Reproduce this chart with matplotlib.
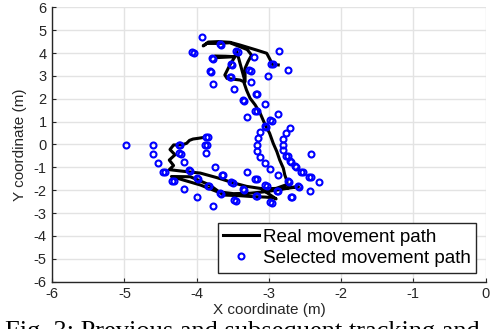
import matplotlib.pyplot as plt

# Real movement path
path_x = [-3.92, -3.98, -4.05, -4.10, -4.14, -4.21, -4.32, -4.37, -4.30, -4.38, -4.32, -4.38,
          -4.19, -3.95, -3.72, -3.49, -3.31, -3.12, -2.89, -2.71, -2.59,
          -2.71, -2.89, -3.03, -3.26, -3.49, -3.72, -3.95, -4.19, -4.35,
          -4.09, -3.82, -3.63, -3.40, -3.22, -3.05, -2.94, -2.90, -3.10, -2.90, -2.75,
          -2.75, -2.78, -2.80, -2.85, -2.89, -2.94, -2.99, -3.05, -3.12, -3.19, -3.26, -3.31, -3.35,
          -3.40, -3.58, -3.61, -3.54, -3.47, -3.60, -3.75, -3.72, -3.47, -3.45,
          -3.33, -3.33, -3.29, -3.24, -3.30, -3.54, -3.70, -3.86, -3.91,
          -3.84, -3.70, -3.54, -3.40, -3.17, -3.03, -2.98, -2.96, -2.87]
path_y = [0.30, 0.27, 0.24, 0.18, 0.05, -0.02, -0.02, -0.22, -0.45, -0.68, -0.92, -1.10,
          -1.17, -1.25, -1.45, -1.68, -1.83, -1.92, -1.97, -1.88, -1.85,
          -1.90, -1.99, -2.06, -2.13, -2.15, -2.06, -1.77, -1.55, -1.40,
          -1.41, -1.77, -2.21, -2.24, -2.28, -2.30, -2.33, -2.38, -1.95, -1.92, -1.75,
          -1.60, -1.33, -1.04, -0.68, -0.31, 0.05, 0.49, 0.85, 1.36, 1.73, 2.02, 2.38, 2.75,
          2.82, 2.89, 3.04, 3.48, 3.84, 3.86, 3.87, 3.80, 3.84, 4.13,
          2.75, 3.33, 3.62, 3.91, 4.15, 4.45, 4.42, 4.42, 4.31,
          4.48, 4.50, 4.47, 4.35, 4.13, 3.99, 3.69, 3.51, 3.48]

# Selected movement path estimates
sel_x = [-3.93, -3.21, -2.86, -2.73, -3.01, -3.78, -3.25, -3.48, -3.05, -2.87, -3.31,
         -2.71, -3.12, -2.77, -3.15, -2.80, -3.16, -2.81, -3.16, -2.80, -2.42, -3.12,
         -3.06, -2.98, -3.31, -2.87, -2.31, -2.43, -3.78, -4.98, -4.61, -4.60, -4.54,
         -4.18, -4.00, -3.87, -3.75, -4.18,
         -4.06, -3.68, -3.45, -3.79, -2.97, -3.53, -3.82, -3.27, -3.54, -3.18, -3.19,
         -2.98, -3.06, -3.36, -2.76, -2.71, -2.64, -2.55, -2.44, -3.19, -3.05, -2.74,
         -2.60, -3.18, -2.89, -2.70, -2.98, -3.65, -3.52, -3.36, -3.68, -3.48, -4.25,
         -4.24, -4.11, -4.00, -3.85, -3.87, -3.88, -4.46, -4.34,
         -4.04, -3.66, -3.43, -3.77, -2.95, -3.51, -3.80, -3.25, -3.52, -3.16, -3.17,
         -2.96, -3.04, -3.34, -2.74, -2.69, -2.62, -2.53, -2.42, -3.17, -3.03, -2.72,
         -2.58, -3.16, -2.87, -2.68, -2.96, -3.63, -3.50, -3.34, -3.66, -3.46, -4.23,
         -4.22, -4.09, -3.98, -3.83, -3.85, -3.86, -4.44, -4.32]
sel_y = [4.69, 3.81, 4.09, 3.27, 3.00, 2.65, 2.73, 2.44, 1.76, 1.33, 1.20,
         0.72, 0.55, 0.49, 0.27, 0.25, -0.01, -0.01, -0.27, -0.25, -0.43, -0.55,
         -0.82, -1.07, -1.22, -1.35, -1.63, -2.05, -2.68, -0.01, -0.01, -0.40, -0.80,
         -1.95, -2.31, -0.36, -1.00, -0.77,
         4.06, 4.39, 4.10, 3.78, 3.53, 3.52, 3.20, 3.27, 2.97, 2.22, 1.48,
         1.07, 0.81, 1.95, -0.49, -0.73, -0.95, -1.19, -1.41, -1.49, -1.77, -1.60,
         -1.81, -2.24, -2.02, -2.28, -2.51, -1.32, -1.65, -1.95, -2.13, -2.44, -0.01,
         -0.37, -1.11, -1.46, -1.80, 0.34, -0.01, -1.19, -1.58,
         4.02, 4.36, 4.06, 3.75, 3.50, 3.48, 3.17, 3.23, 2.94, 2.19, 1.45,
         1.03, 0.78, 1.92, -0.52, -0.76, -0.98, -1.22, -1.44, -1.52, -1.80, -1.63,
         -1.84, -2.27, -2.05, -2.31, -2.54, -1.35, -1.68, -1.98, -2.16, -2.47, -0.04,
         -0.40, -1.14, -1.49, -1.83, 0.31, -0.04, -1.22, -1.61]

x_ticks = [-6, -5, -4, -3, -2, -1, 0]
y_ticks = [-6, -5, -4, -3, -2, -1, 0, 1, 2, 3, 4, 5, 6]

plt.rcParams['font.family'] = ['Liberation Sans', 'DejaVu Sans']
plt.rcParams['axes.unicode_minus'] = False

fig = plt.figure(figsize=(4.91, 3.29), dpi=100)
ax = fig.add_axes([0.1065, 0.1438, 0.8823, 0.834])

ax.plot(path_x, path_y, color='black', lw=2.2, solid_joinstyle='round',
        label='Real movement path', zorder=3)
ax.plot(sel_x, sel_y, 'o', color='blue', mfc='none', ms=4.3, mew=1.5,
        label='Selected movement path', zorder=4)

ax.set_xlim(-6, 0)
ax.set_ylim(-6, 6)
ax.set_xticks(x_ticks)
ax.set_yticks(y_ticks)
ax.tick_params(direction='in', length=3, labelsize=10.5, colors='#262626', pad=4)
ax.grid(True, color='#e3e3e3', lw=1)
ax.set_axisbelow(True)
for s in ['top', 'right']:
    ax.spines[s].set_visible(False)
for s in ['left', 'bottom']:
    ax.spines[s].set_color('#262626')
    ax.spines[s].set_linewidth(1)

ax.set_xlabel('X coordinate (m)', fontsize=11, color='#262626', labelpad=1)
ax.set_ylabel('Y coordinate (m)', fontsize=11, color='#262626', labelpad=5)

leg = ax.legend(loc='lower right', bbox_to_anchor=(0.979, 0.033), borderaxespad=0,
                fontsize=13.6, fancybox=False, edgecolor='#262626', framealpha=1,
                handlelength=1.9, handletextpad=0.2, borderpad=0.3, labelspacing=0.2)
leg.get_frame().set_linewidth(1)

fig.text(0.01, 0.025, 'Fig. 3: Previous and subsequent tracking and', family='Liberation Serif',
         fontsize=19, va='top', ha='left')

fig.savefig('out.png', dpi=100)
